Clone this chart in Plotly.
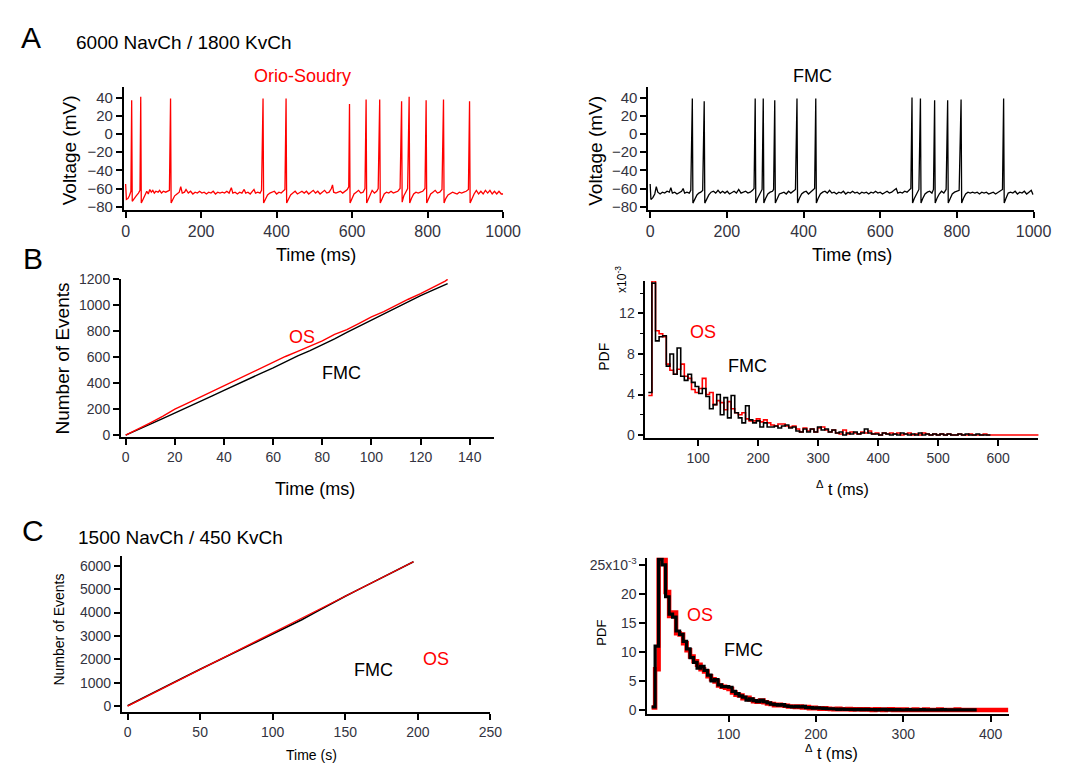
import plotly.graph_objects as go
import numpy as np

W, H = 1070, 763
FONT = "Liberation Sans, Arial, sans-serif"
RED = "#ff0000"
TICKC = "#333340"

# ---------------- Panel A: voltage traces (time ms, voltage mV) ----------------
os_trace = [(0,-55),(2,-72),(6,-71),(10,-68),(14,-63),(16,37),(17.5,-74),(22,-71),(28,-68),(34,-65),
            (38,-62),(40,41),(41.5,-76),(46,-72),(52,-67),(56,-63),(60,-66),(64,-61),(68,-64),(72,-62),
            (76,-65),(80,-63),(86,-64),(90,-62),(95,-65),(100,-63),(106,-64),(110,-63),(116,-62),(119,39),
            (120.5,-76),(125,-72),(130,-68),(136,-66),(142,-64),(146,-58),(150,-65),(156,-64),(160,-61),(166,-65),
            (172,-63),(178,-66),(184,-64),(190,-65),(196,-63),(202,-65),(208,-64),(214,-66),(220,-64),(226,-65),
            (232,-63),(238,-66),(244,-64),(250,-65),(256,-64),(262,-65),(268,-63),(274,-65),(280,-59),(284,-65),
            (290,-64),(296,-66),(302,-64),(308,-65),(314,-61),(318,-65),(324,-64),(330,-66),(336,-63),(340,-61),
            (344,-65),(350,-64),(356,-65),(360,-62),(364,39),(365.5,-76),(370,-72),(376,-67),(382,-65),(388,-64),
            (394,-63),(400,-66),(406,-64),(412,-65),(418,-63),(422,-61),(425,39),(426.5,-76),(431,-72),(437,-67),
            (443,-65),(449,-63),(455,-66),(461,-64),(467,-63),(473,-65),(479,-63),(485,-66),(491,-64),(497,-62),
            (503,-65),(509,-63),(515,-66),(521,-64),(527,-62),(533,-65),(539,-64),(545,-60),(548,-56),(551,-64),
            (557,-65),(563,-64),(569,-63),(575,-65),(581,-63),(587,-61),(591,-58),(593,33),(594.5,-76),(599,-72),
            (605,-66),(611,-64),(617,-62),(623,-65),(629,-64),(634,-60),(637,38),(638.5,-76),(643,-71),(649,-66),
            (653,-62),(659,-65),(665,-63),(669,-60),(673,38),(674.5,-76),(679,-71),(685,-66),(691,-64),(697,-65),
            (703,-63),(709,-65),(715,-64),(721,-63),(727,-60),(731,36),(732.5,-75),(737,-68),(742,-64),(747,-60),
            (751,41),(752.5,-76),(757,-71),(763,-66),(769,-64),(775,-65),(781,-64),(787,-63),(793,-60),(796,37),
            (797.5,-76),(802,-71),(808,-66),(814,-64),(820,-62),(826,-65),(832,-64),(838,-61),(842,38),(843.5,-76),
            (848,-71),(854,-67),(860,-65),(866,-64),(872,-65),(878,-66),(884,-64),(890,-65),(896,-64),(902,-63),
            (908,-61),(911,36),(912.5,-76),(917,-71),(923,-66),(929,-62),(935,-66),(941,-63),(947,-66),(953,-62),
            (959,-65),(965,-62),(971,-66),(977,-63),(983,-66),(989,-63),(995,-66),(1000,-66)]

fmc_trace = [(0,-55),(2,-72),(7,-70),(12,-66),(16,-58),(20,-64),(26,-66),(32,-64),(38,-65),(44,-63),
             (50,-64),(54,-59),(58,-65),(64,-64),(70,-66),(76,-64),(82,-63),(86,-60),(90,-65),(96,-64),
             (102,-65),(106,-62),(110,39),(111.5,-76),(116,-72),(122,-67),(127,-65),(132,-64),(137,-62),(141,36),
             (142.5,-76),(147,-72),(153,-67),(159,-64),(165,-63),(171,-65),(177,-62),(183,-65),(189,-63),(195,-65),
             (201,-63),(207,-66),(213,-64),(219,-63),(225,-65),(231,-61),(237,-65),(243,-64),(249,-63),(255,-65),
             (261,-64),(267,-62),(271,-60),(274,39),(275.5,-76),(280,-71),(286,-66),(292,-61),(295,39),(296.5,-76),
             (301,-71),(307,-66),(313,-64),(319,-63),(322,-61),(325,37),(326.5,-76),(331,-71),(337,-66),(343,-65),
             (349,-64),(355,-66),(361,-63),(367,-65),(373,-63),(379,-61),(383,39),(384.5,-76),(389,-71),(395,-66),
             (401,-64),(407,-63),(413,-66),(419,-64),(425,-62),(429,-60),(432,39),(433.5,-76),(438,-71),(444,-66),
             (450,-64),(456,-63),(462,-65),(468,-62),(474,-65),(480,-64),(486,-66),(492,-64),(498,-65),(504,-63),
             (510,-66),(516,-64),(522,-65),(528,-63),(534,-65),(540,-64),(546,-66),(552,-64),(558,-65),(564,-64),
             (570,-66),(576,-64),(582,-65),(588,-63),(594,-65),(600,-64),(606,-66),(612,-64),(618,-63),(624,-65),
             (630,-64),(636,-62),(642,-60),(646,-65),(652,-64),(658,-65),(664,-63),(670,-64),(676,-62),(680,-60),
             (683,40),(684.5,-76),(689,-71),(695,-66),(701,-61),(705,39),(706.5,-76),(711,-71),(717,-66),(723,-64),
             (729,-63),(735,-65),(739,-61),(742,37),(743.5,-76),(748,-71),(754,-66),(760,-63),(766,-65),(772,-61),
             (776,37),(777.5,-76),(782,-71),(788,-66),(794,-64),(800,-63),(806,-62),(811,38),(812.5,-76),(817,-71),
             (823,-66),(829,-64),(835,-65),(841,-64),(847,-65),(853,-64),(859,-66),(865,-64),(871,-65),(877,-64),
             (883,-66),(889,-65),(895,-64),(901,-66),(907,-64),(913,-63),(919,-61),(922,39),(923.5,-76),(928,-71),
             (934,-65),(940,-64),(946,-65),(952,-63),(958,-66),(964,-64),(970,-65),(976,-63),(982,-66),(988,-64),
             (994,-62),(998,-66),(1000,-66)]

# ---------------- Panel B left: cumulative events ----------------
b_time = [0,5,10,15,20,25,30,35,40,45,50,55,60,65,70,75,80,85,90,95,100,105,110,115,120,125,130,131]
b_cum_os = [0,45,95,145,200,245,290,335,382,428,470,515,565,605,645,685,725,775,812,860,910,950,1000,1045,1088,1135,1185,1198]
b_cum_fmc = [0,40,85,128,170,215,258,300,345,390,430,475,518,565,610,650,692,740,790,838,885,930,978,1025,1072,1115,1158,1165]

# ---------------- Panel B right: ISI histograms (x10^-3) ----------------
b_bin_start, b_bin_width = 17, 6
b_pdf_os = [3.9,15.2,10.3,10.0,9.7,7.0,6.4,6.0,6.5,7.0,
            5.8,5.6,4.5,4.2,4.6,5.6,4.0,4.2,3.0,3.4,
            3.2,2.5,3.3,2.6,2.2,2.0,2.2,1.6,1.4,1.4,
            1.6,1.3,1.5,1.2,1.0,0.9,1.1,1.1,0.9,0.8,
            0.9,0.6,0.3,0.7,0.4,0.6,0.3,0.7,0.8,0.5,
            0.3,0.5,0.2,0.1,0.5,0.1,0.3,0.2,0.1,0.3,
            0.2,0.4,0.1,0.2,0.0,0.2,0.1,0.2,0.1,0.2,
            0.0,0.1,0.2,0.0,0.1,0.0,0.2,0.1,0.0,0.1,
            0.0,0.1,0.0,0.1,0.0,0.0,0.1,0.0,0.0,0.1,
            0.0,0.0,0.0,0.1,0.0,0.0,0.0,0.0,0.0,0.0,
            0.0,0.0,0.0,0.0,0.0,0.0,0.0,0.0,0.0]
b_pdf_fmc = [4.2,15.0,9.3,9.7,9.8,6.8,8.0,6.0,8.6,5.8,
             5.4,6.0,5.2,4.8,4.1,4.6,3.8,2.6,3.0,4.0,
             2.0,3.7,1.7,3.9,2.2,1.7,1.2,2.9,1.5,1.2,
             1.4,0.8,1.2,0.8,0.8,0.9,0.7,0.9,1.0,0.7,
             0.8,0.4,0.3,0.6,0.3,0.6,0.3,0.8,0.5,0.6,
             0.3,0.5,0.2,0.3,0.0,0.2,0.1,0.3,0.1,0.2,
             0.6,0.2,0.1,0.1,0.0,0.2,0.1,0.0,0.1,0.0,
             0.2,0.1,0.0,0.1,0.0,0.2,0.0,0.1,0.0,0.1,
             0.0,0.1,0.0,0.1,0.0,0.0,0.1,0.0,0.1,0.0,
             0.0,0.1,0.0,0.0,0.0]

# ---------------- Panel C left: cumulative events (s) ----------------
c_time = [0,10,20,30,40,50,60,70,80,90,100,110,120,130,140,150,160,170,180,190,197]
c_cum_os = [0,310,625,940,1255,1570,1880,2195,2505,2820,3130,3445,3760,4070,4385,4700,5010,5320,5640,5950,6170]
c_cum_fmc = [20,340,650,955,1265,1575,1880,2185,2490,2790,3080,3380,3690,4030,4370,4695,5010,5320,5640,5950,6170]

# ---------------- Panel C right: ISI histograms (x10^-3) ----------------
c_bin_start, c_bin_width = 12, 4
c_pdf_os = [0.4,7.0,26.3,26.3,20.3,16.2,16.8,13.2,13.0,11.5,
            10.3,9.2,8.4,7.8,7.0,6.6,5.8,5.3,4.9,4.2,
            4.0,3.8,3.6,3.0,2.6,2.5,2.0,2.1,1.8,1.5,
            1.4,1.6,1.3,1.1,1.0,0.8,0.9,0.8,0.7,0.6,
            0.6,0.5,0.6,0.4,0.5,0.3,0.35,0.3,0.2,0.3,
            0.2,0.15,0.1,0.2,0.1,0.1,0.15,0.05,0.1,0.1,
            0.05,0.1,0.05,0.0,0.1,0.05,0.0,0.05,0.1,0.0,
            0.05,0.0,0.05,0.0,0.0,0.05,0.0,0.0,0.05,0.0,
            0.0,0.0,0.05,0.0,0.0,0.0,0.0,0.05,0.0,0.0,
            0.0,0.0,0.0,0.0,0.0,0.0,0.0,0.0,0.0,0.0,
            0.0,0.0]
c_pdf_fmc = [0.5,11.0,26.0,25.0,19.5,16.5,16.0,13.6,13.0,11.8,
             10.5,9.0,8.2,7.2,7.5,6.8,6.0,5.0,5.2,4.3,
             4.0,4.0,3.9,3.2,2.8,2.4,2.2,1.7,1.9,1.6,
             1.4,1.7,1.4,1.2,1.0,0.9,0.8,0.9,0.7,0.6,
             0.5,0.6,0.5,0.6,0.4,0.4,0.3,0.35,0.3,0.25,
             0.2,0.2,0.15,0.1,0.15,0.1,0.1,0.1,0.05,0.1,
             0.05,0.1,0.05,0.05,0.0,0.05,0.1,0.0,0.05,0.0,
             0.05,0.0,0.0,0.05,0.0,0.0,0.0,0.05,0.0,0.0,
             0.0,0.0,0.0,0.05,0.0,0.0,0.0,0.0,0.0,0.0,
             0.0,0.0,0.0]


def step_xy(start, width, vals):
    edges = start + width * np.arange(len(vals) + 1)
    return edges, list(vals) + [vals[-1]]


def xd(a, b):
    return [a / W, b / W]


def yd(top, bottom):
    return [1 - bottom / H, 1 - top / H]


def px(x):
    return x / W


def py(y):
    return 1 - y / H


fig = go.Figure()

# A left / right
fig.add_trace(go.Scatter(x=[p[0] for p in os_trace], y=[p[1] for p in os_trace], mode="lines",
                         line=dict(color=RED, width=1.3), xaxis="x", yaxis="y"))
fig.add_trace(go.Scatter(x=[p[0] for p in fmc_trace], y=[p[1] for p in fmc_trace], mode="lines",
                         line=dict(color="black", width=1.3), xaxis="x2", yaxis="y2"))
# B left
fig.add_trace(go.Scatter(x=b_time, y=b_cum_fmc, mode="lines", line=dict(color="black", width=1.4),
                         xaxis="x3", yaxis="y3"))
fig.add_trace(go.Scatter(x=b_time, y=b_cum_os, mode="lines", line=dict(color=RED, width=1.4),
                         xaxis="x3", yaxis="y3"))
# B right
bx, by = step_xy(b_bin_start, b_bin_width, b_pdf_os)
fig.add_trace(go.Scatter(x=bx, y=by, mode="lines", line=dict(color=RED, width=1.6, shape="hv"),
                         xaxis="x4", yaxis="y4"))
bx, by = step_xy(b_bin_start, b_bin_width, b_pdf_fmc)
fig.add_trace(go.Scatter(x=bx, y=by, mode="lines", line=dict(color="black", width=1.6, shape="hv"),
                         xaxis="x4", yaxis="y4"))
# C left
fig.add_trace(go.Scatter(x=c_time, y=c_cum_fmc, mode="lines", line=dict(color="black", width=1.6),
                         xaxis="x5", yaxis="y5"))
fig.add_trace(go.Scatter(x=c_time, y=c_cum_os, mode="lines", line=dict(color=RED, width=1.3),
                         xaxis="x5", yaxis="y5"))
# C right
cx, cy = step_xy(c_bin_start, c_bin_width, c_pdf_os)
fig.add_trace(go.Scatter(x=cx, y=cy, mode="lines", line=dict(color=RED, width=4.5, shape="hv"),
                         xaxis="x6", yaxis="y6"))
cx, cy = step_xy(c_bin_start, c_bin_width, c_pdf_fmc)
fig.add_trace(go.Scatter(x=cx, y=cy, mode="lines", line=dict(color="black", width=3.2, shape="hv"),
                         xaxis="x6", yaxis="y6"))


def ax(domain, rng, anchor, fs=15, **kw):
    d = dict(domain=domain, range=rng, anchor=anchor, showline=True, linecolor="black", linewidth=1.6,
             ticks="outside", ticklen=6, tickwidth=1.5, tickcolor="black", showgrid=False, zeroline=False,
             tickfont=dict(family=FONT, size=fs, color=TICKC), fixedrange=True)
    d.update(kw)
    return d


layout = dict(
    width=W, height=H, margin=dict(l=0, r=0, t=0, b=0), showlegend=False,
    paper_bgcolor="white", plot_bgcolor="white", font=dict(family=FONT),
    xaxis=ax(xd(115, 502), [-5, 1000], "y", fs=16, tickvals=[0, 200, 400, 600, 800, 1000]),
    yaxis=ax(yd(72, 198), [-84, 52], "x", fs=15, tickvals=[-80, -60, -40, -20, 0, 20, 40]),
    xaxis2=ax(xd(650, 1043), [-5, 1000], "y2", fs=16, tickvals=[0, 200, 400, 600, 800, 1000]),
    yaxis2=ax(yd(72, 198), [-84, 52], "x2", fs=15, tickvals=[-80, -60, -40, -20, 0, 20, 40]),
    xaxis3=ax(xd(112, 493), [-2, 150], "y3", fs=14, tickvals=list(range(0, 141, 20))),
    yaxis3=ax(yd(268, 429), [-15, 1200], "x3", fs=14, tickvals=list(range(0, 1201, 200))),
    xaxis4=ax(xd(647, 1048), [12, 667], "y4", fs=14, tickvals=[100, 200, 300, 400, 500, 600]),
    yaxis4=ax(yd(270, 430), [-0.3, 15.2], "x4", fs=14, tickvals=[0, 4, 8, 12],
              minor=dict(dtick=2, tick0=0, ticks="outside", ticklen=4, tickwidth=1.2, tickcolor="black")),
    xaxis5=ax(xd(113, 489), [-4, 250], "y5", fs=14, tickvals=[0, 50, 100, 150, 200, 250]),
    yaxis5=ax(yd(550, 709), [-250, 6420], "x5", fs=14, tickvals=list(range(0, 6001, 1000))),
    xaxis6=ax(xd(649, 1018), [7, 421], "y6", fs=14, tickvals=[100, 200, 300, 400]),
    yaxis6=ax(yd(552, 711), [-0.7, 26.2], "x6", fs=14, tickvals=[0, 5, 10, 15, 20, 25],
              ticktext=["0", "5", "10", "15", "20", "25x10<sup>-3</sup>"]),
)


def ann(x, y, text, size, color="black", angle=0, xanchor="center"):
    return dict(x=px(x), y=py(y), xref="paper", yref="paper", text=text, showarrow=False,
                textangle=angle, xanchor=xanchor, yanchor="middle",
                font=dict(family=FONT, size=size, color=color))


annotations = [
    ann(20, 22, "A", 30), ann(22, 247, "B", 30), ann(22, 524, "C", 30),
    ann(64, 27, "6000 NavCh / 1800 KvCh", 19, xanchor="left"),
    ann(66, 531, "1500 NavCh / 450 KvCh", 19, xanchor="left"),
    ann(297, 61, "Orio-Soudry", 18, RED), ann(818, 61, "FMC", 18),
    ann(60, 137, "Voltage (mV)", 19, angle=-90), ann(311, 243, "Time (ms)", 18),
    ann(596, 137, "Voltage (mV)", 19, angle=-90), ann(858, 243, "Time (ms)", 18),
    ann(53, 349, "Number of Events", 19, angle=-90), ann(310, 482, "Time (ms)", 18),
    ann(297, 327, "OS", 18, RED), ann(337, 364, "FMC", 18),
    ann(605, 347, "PDF", 14, angle=-90), ann(622, 268, "x10<sup>-3</sup>", 12, angle=-90),
    ann(848, 481, "<sup>Δ</sup> t (ms)", 16),
    ann(706, 322, "OS", 18, RED), ann(751, 357, "FMC", 18),
    ann(48, 625, "Number of Events", 14, angle=-90), ann(307, 753, "Time (s)", 14),
    ann(370, 666, "FMC", 18), ann(433, 655, "OS", 18, RED),
    ann(602, 628, "PDF", 13, angle=-90), ann(837, 750, "<sup>Δ</sup> t (ms)", 16),
    ann(703, 610, "OS", 18, RED), ann(747, 646, "FMC", 18),
]
layout["annotations"] = annotations
fig.update_layout(**layout)
fig.write_html("out.html")
